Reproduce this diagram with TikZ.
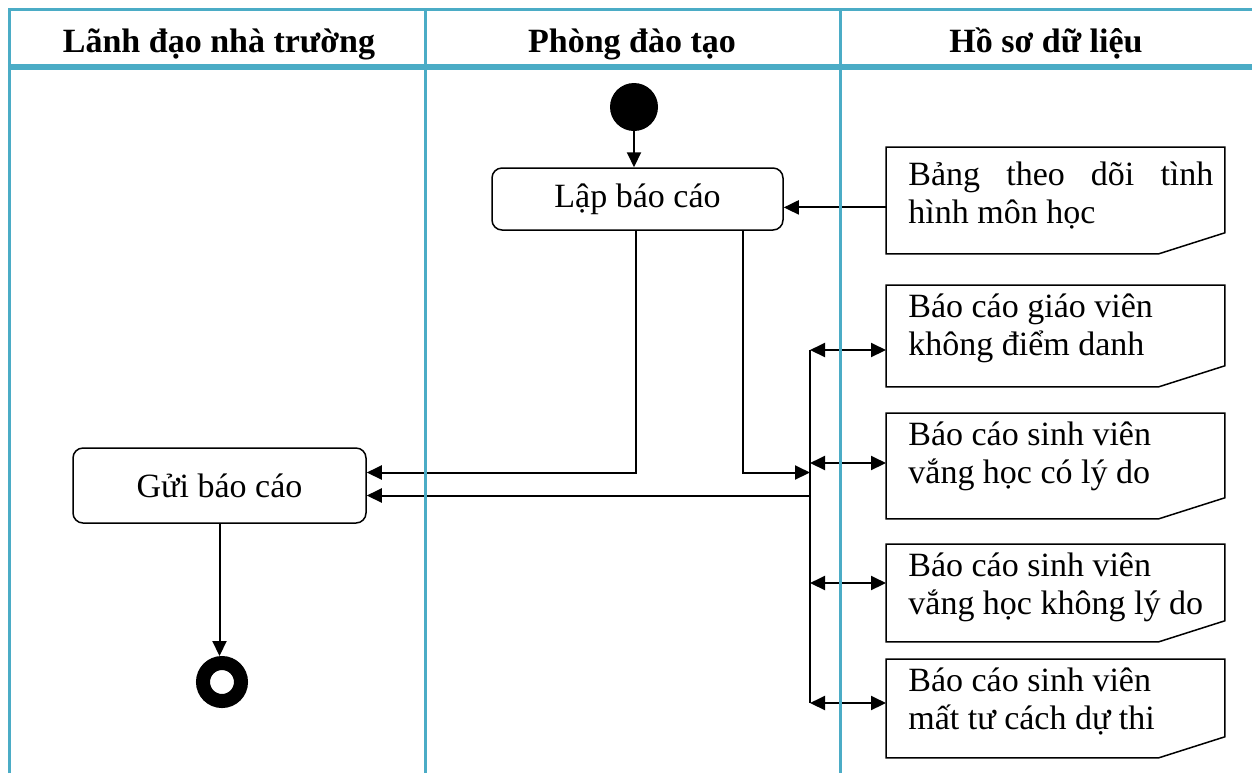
\documentclass[tikz,border=0pt]{standalone}
\usepackage{fontspec}
\setmainfont{Liberation Serif}
\usetikzlibrary{arrows.meta,calc}
\definecolor{lanecol}{RGB}{75,172,198}
\tikzstyle{lane}=[draw=lanecol,line width=1.5pt]
\tikzstyle{lanehead}=[font=\fontsize{17}{19}\selectfont\bfseries,anchor=base]
\tikzstyle{act}=[rectangle,rounded corners=5pt,draw,line width=0.75pt,minimum height=31pt]
\tikzstyle{docbox}=[inner sep=0pt,anchor=north west]
\tikzstyle{docline}=[draw,line width=0.75pt]
\tikzstyle{startnode}=[circle,fill=black,inner sep=0pt,minimum size=24pt]
\tikzstyle{endnode}=[circle,draw=black,line width=7pt,inner sep=0pt,minimum size=19pt]
\tikzstyle{conn}=[line width=1pt]
\tikzstyle{arrow}=[-{Triangle[length=7.5pt,width=7pt]},line width=1pt]
\tikzstyle{darrow}=[{Triangle[length=7.5pt,width=7pt]}-{Triangle[length=7.5pt,width=7pt]},line width=1pt]
\newcommand{\doctext}[3][16pt]{\hspace*{11pt}\parbox[t][#2][t]{152.5pt}{\rule{0pt}{#1}#3}\hspace*{5.5pt}}

\begin{document}
\begin{tikzpicture}[x=0.5pt,y=-0.5pt,font=\fontsize{17}{19}\selectfont]
  \useasboundingbox (0,0) rectangle (1252,773);

  % lane titles
  \node[lanehead] (h1) at (219,52) {Lãnh đạo nhà trường};
  \node[lanehead] (h2) at (632,52) {Phòng đào tạo};
  \node[lanehead] (h3) at (1046,52) {Hồ sơ dữ liệu};

  % activities
  \node[startnode] (start) at (634,107) {};
  \node[act,minimum width=145.5pt] (lap) at (637.5,199) {Lập báo cáo};
  \node[act,minimum width=146.5pt,minimum height=37.5pt] (gui) at (219.5,485.5) {Gửi báo cáo};
  \node[endnode] (fin) at (222,682) {};

  % data documents
  \node[docbox] (bang) at (886,147) {\doctext[19pt]{53pt}{Bảng theo dõi tình hình môn học}};
  \node[docbox] (gv) at (886,285) {\doctext{50.5pt}{Báo cáo giáo viên\\không điểm danh}};
  \node[docbox] (cl) at (886,413) {\doctext{52.5pt}{Báo cáo sinh viên\\vắng học có lý do}};
  \node[docbox] (kl) at (886,544) {\doctext{48.5pt}{Báo cáo sinh viên\\vắng học không lý do}};
  \node[docbox] (mt) at (886,659) {\doctext{49pt}{Báo cáo sinh viên\\mất tư cách dự thi}};
  \foreach \d in {bang,gv,cl,kl,mt}
    \draw[docline] (\d.north west) -- (\d.north east) -- ([yshift=10.5pt]\d.south east)
      -- ([xshift=-33pt]\d.south east) -- (\d.south west) -- cycle;

  % bus
  \coordinate (b1) at (810,350);
  \coordinate (b2) at (810,463);
  \coordinate (b3) at (810,583);
  \coordinate (b4) at (810,703);
  \coordinate (j1) at ($(gui.east)+(0,-13)$);
  \coordinate (j2) at ($(gui.east)+(0,10)$);

  \draw[arrow] (start) -- (start |- lap.north);
  \draw[arrow] ([yshift=-3.5pt]bang.west) -- ([yshift=-3.5pt]bang.west -| lap.east);
  \draw[arrow] ([xshift=-1pt]lap.south) |- (j1);
  \draw[arrow] ([xshift=52.5pt]lap.south) |- (b1 |- j1);
  \draw[arrow] (b1 |- j2) -- (j2);
  \draw[conn] (b1) -- (b4);
  \draw[darrow] (b1) -- (b1 -| gv.west);
  \draw[darrow] (b2) -- (b2 -| cl.west);
  \draw[darrow] (b3) -- (b3 -| kl.west);
  \draw[darrow] (b4) -- (b4 -| mt.west);
  \draw[arrow] (gui.south) -- (gui.south |- fin.north);

  % swimlanes
  \draw[lane] (9.5,773) -- (9.5,9.5) -- (1252,9.5);
  \draw[lane,line width=3pt] (9.5,66.5) -- (1252,66.5);
  \draw[lane] (425.5,9.5) -- (425.5,773);
  \draw[lane] (840.5,9.5) -- (840.5,773);
\end{tikzpicture}
\end{document}
